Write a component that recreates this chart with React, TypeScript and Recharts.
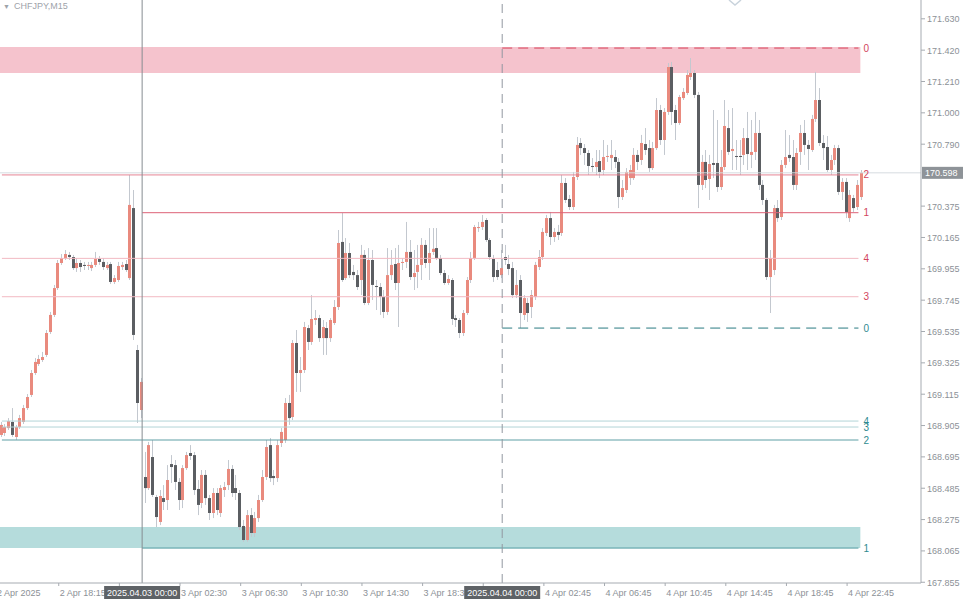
import React from "react";
import {
  ComposedChart,
  Bar,
  XAxis,
  YAxis,
  ReferenceLine,
  ReferenceArea,
} from "recharts";

// CHFJPY M15 candles, 2 Apr 14:30 -> 4 Apr 23:45 (broker skips the 23:45 bar)

const OPEN = [
  168.842, 168.855, 168.888, 168.929, 168.828, 168.895, 168.929, 169.022, 169.110, 169.257,
  169.317, 169.344, 169.378, 169.532, 169.646, 169.826, 169.994, 170.027, 170.048, 170.034,
  169.960, 169.994, 169.981, 169.974, 169.960, 169.981, 170.021, 170.001, 169.960, 169.987,
  169.867, 169.880, 169.967, 169.987, 169.893, 170.362, 169.411, 169.009, 168.560, 168.486,
  168.694, 168.426, 168.259, 168.419, 168.406, 168.647, 168.640, 168.527, 168.406, 168.620,
  168.721, 168.707, 168.480, 168.386, 168.574, 168.419, 168.319, 168.453, 168.319, 168.473,
  168.506, 168.614, 168.486, 168.453, 168.232, 168.138, 168.305, 168.185, 168.285, 168.406,
  168.560, 168.774, 168.567, 168.553, 168.788, 168.808, 169.056, 168.962, 169.458, 169.257,
  169.277, 169.558, 169.465, 169.612, 169.625, 169.491, 169.558, 169.491, 169.592, 169.699,
  170.135, 169.893, 170.061, 169.934, 169.913, 169.880, 170.048, 169.726, 170.014, 169.840,
  169.833, 169.766, 169.666, 169.913, 169.987, 169.860, 169.994, 170.001, 170.068, 169.900,
  169.934, 169.981, 170.115, 169.994, 170.068, 170.094, 170.027, 169.927, 169.860, 169.880,
  169.625, 169.612, 169.525, 169.659, 169.880, 170.027, 170.228, 170.235, 170.282, 170.148,
  170.021, 169.947, 169.913, 170.034, 169.987, 169.960, 169.779, 169.880, 169.646, 169.726,
  169.699, 169.766, 169.967, 170.034, 170.195, 170.295, 170.168, 170.202, 170.195, 170.530,
  170.423, 170.369, 170.570, 170.798, 170.764, 170.731, 170.644, 170.637, 170.677, 170.617,
  170.704, 170.697, 170.704, 170.671, 170.436, 170.483, 170.563, 170.563, 170.718, 170.684,
  170.791, 170.764, 170.630, 170.764, 171.019, 170.818, 171.006, 171.307, 171.019, 170.932,
  171.099, 171.133, 171.240, 171.267, 171.120, 170.517, 170.671, 170.557, 170.664, 170.664,
  170.503, 170.637, 170.898, 170.744, 170.711, 170.711, 170.718, 170.831, 170.718, 170.738,
  170.865, 170.517, 170.416, 169.900, 169.947, 170.362, 170.302, 170.651, 170.718, 170.704,
  170.517, 170.738, 170.865, 170.785, 170.751, 170.959, 171.086, 170.798, 170.771, 170.617,
  170.684, 170.764, 170.470, 170.537, 170.295, 170.429, 170.369, 170.436,
];

const HIGH = [
  168.929, 168.915, 168.955, 169.022, 168.909, 168.976, 169.043, 169.116, 169.277, 169.357,
  169.378, 169.398, 169.545, 169.666, 169.847, 170.014, 170.054, 170.081, 170.068, 170.048,
  170.027, 170.014, 170.001, 170.001, 170.001, 170.068, 170.041, 170.027, 170.001, 170.001,
  169.913, 170.001, 170.001, 170.014, 170.584, 170.483, 169.445, 169.223, 168.728, 168.795,
  168.808, 168.440, 168.473, 168.506, 168.640, 168.707, 168.674, 168.553, 168.640, 168.728,
  168.774, 168.728, 168.540, 168.607, 168.607, 168.440, 168.486, 168.486, 168.506, 168.527,
  168.674, 168.640, 168.574, 168.473, 168.272, 168.339, 168.352, 168.326, 168.440, 168.607,
  168.808, 168.821, 168.607, 168.808, 168.888, 169.089, 169.110, 169.478, 169.545, 169.364,
  169.599, 169.579, 169.779, 169.679, 169.646, 169.612, 169.599, 169.625, 169.746, 170.215,
  170.329, 170.161, 170.128, 169.981, 169.947, 170.115, 170.081, 170.094, 170.081, 169.880,
  169.860, 169.813, 170.094, 170.081, 170.094, 170.115, 170.027, 170.269, 170.148, 170.081,
  170.115, 170.161, 170.148, 170.228, 170.228, 170.228, 170.048, 169.947, 169.913, 169.893,
  169.646, 169.625, 169.679, 169.900, 170.068, 170.249, 170.269, 170.316, 170.295, 170.161,
  170.048, 170.001, 170.081, 170.115, 170.048, 170.001, 169.947, 169.913, 169.779, 169.759,
  169.813, 170.001, 170.081, 170.228, 170.316, 170.336, 170.228, 170.249, 170.584, 170.563,
  170.450, 170.604, 170.838, 170.831, 170.791, 170.751, 170.697, 170.751, 170.751, 170.818,
  170.785, 170.818, 170.751, 170.697, 170.550, 170.630, 170.651, 170.764, 170.751, 170.852,
  170.898, 170.818, 170.805, 171.099, 171.053, 171.032, 171.334, 171.341, 171.053, 171.120,
  171.166, 171.287, 171.367, 171.287, 171.140, 170.718, 170.751, 170.718, 171.019, 170.952,
  170.751, 171.086, 171.019, 171.032, 170.818, 170.818, 170.898, 171.006, 170.952, 171.006,
  170.952, 170.550, 170.429, 170.081, 170.383, 170.416, 170.684, 170.885, 170.851, 170.818,
  170.764, 170.919, 170.952, 170.818, 170.986, 171.274, 171.166, 170.851, 170.845, 170.718,
  170.785, 170.785, 170.563, 170.563, 170.483, 170.450, 170.550, 170.617,
];

const LOW = [
  168.828, 168.835, 168.875, 168.828, 168.808, 168.882, 168.915, 169.009, 169.096, 169.244,
  169.304, 169.331, 169.364, 169.518, 169.632, 169.813, 169.981, 170.014, 170.014, 169.947,
  169.934, 169.934, 169.947, 169.947, 169.940, 169.967, 169.981, 169.947, 169.947, 169.853,
  169.853, 169.867, 169.947, 169.934, 169.880, 169.478, 168.922, 168.955, 168.386, 168.473,
  168.426, 168.225, 168.238, 168.339, 168.339, 168.520, 168.473, 168.339, 168.352, 168.607,
  168.674, 168.440, 168.305, 168.352, 168.373, 168.272, 168.285, 168.305, 168.292, 168.426,
  168.473, 168.426, 168.406, 168.205, 168.125, 168.125, 168.158, 168.158, 168.259, 168.393,
  168.540, 168.527, 168.506, 168.527, 168.761, 168.788, 168.909, 168.942, 169.130, 169.130,
  169.257, 169.411, 169.445, 169.579, 169.465, 169.378, 169.378, 169.465, 169.579, 169.679,
  169.867, 169.880, 169.893, 169.880, 169.813, 169.779, 169.712, 169.712, 169.746, 169.679,
  169.646, 169.625, 169.646, 169.880, 169.813, 169.565, 169.947, 169.960, 169.880, 169.813,
  169.826, 169.880, 169.960, 169.880, 170.048, 170.014, 169.913, 169.847, 169.847, 169.579,
  169.565, 169.491, 169.505, 169.646, 169.860, 170.014, 170.202, 170.215, 170.135, 170.014,
  169.867, 169.880, 169.893, 169.981, 169.913, 169.759, 169.759, 169.558, 169.612, 169.599,
  169.625, 169.746, 169.947, 170.014, 170.175, 170.115, 170.135, 170.148, 170.175, 170.396,
  170.349, 170.349, 170.550, 170.718, 170.651, 170.584, 170.604, 170.584, 170.563, 170.584,
  170.671, 170.617, 170.630, 170.362, 170.416, 170.463, 170.517, 170.550, 170.617, 170.651,
  170.718, 170.604, 170.617, 170.751, 170.785, 170.718, 170.986, 170.919, 170.818, 170.919,
  171.086, 171.120, 171.220, 171.099, 170.362, 170.483, 170.496, 170.416, 170.563, 170.470,
  170.483, 170.617, 170.718, 170.617, 170.617, 170.584, 170.651, 170.617, 170.630, 170.684,
  170.483, 170.383, 169.880, 169.659, 169.913, 170.269, 170.282, 170.630, 170.671, 170.483,
  170.483, 170.651, 170.718, 170.617, 170.738, 170.939, 170.778, 170.684, 170.604, 170.584,
  170.651, 170.450, 170.416, 170.295, 170.269, 170.336, 170.349, 170.416,
];

const CLOSE = [
  168.909, 168.895, 168.935, 168.842, 168.895, 168.955, 169.022, 169.096, 169.257, 169.331,
  169.351, 169.364, 169.525, 169.646, 169.826, 169.994, 170.027, 170.054, 170.034, 169.960,
  169.994, 169.967, 169.974, 169.981, 169.981, 170.021, 170.001, 169.967, 169.981, 169.867,
  169.893, 169.974, 169.981, 169.947, 170.383, 169.512, 169.056, 169.197, 168.486, 168.774,
  168.440, 168.292, 168.433, 168.393, 168.540, 168.627, 168.527, 168.406, 168.620, 168.707,
  168.701, 168.473, 168.373, 168.574, 168.419, 168.319, 168.453, 168.339, 168.486, 168.493,
  168.614, 168.453, 168.453, 168.225, 168.138, 168.305, 168.185, 168.285, 168.406, 168.560,
  168.761, 168.553, 168.553, 168.774, 168.862, 169.056, 168.955, 169.458, 169.257, 169.277,
  169.565, 169.465, 169.619, 169.625, 169.491, 169.565, 169.491, 169.612, 169.699, 170.128,
  169.880, 170.061, 169.913, 169.913, 169.833, 170.048, 169.726, 170.014, 169.847, 169.833,
  169.766, 169.666, 169.913, 169.981, 169.860, 169.994, 170.001, 170.068, 169.900, 169.927,
  169.981, 170.115, 169.994, 170.061, 170.089, 170.027, 169.927, 169.860, 169.887, 169.619,
  169.612, 169.525, 169.659, 169.880, 170.027, 170.235, 170.235, 170.269, 170.148, 170.034,
  169.900, 169.900, 169.960, 170.014, 169.954, 169.779, 169.847, 169.659, 169.759, 169.659,
  169.779, 169.981, 170.034, 170.202, 170.295, 170.168, 170.202, 170.182, 170.530, 170.416,
  170.369, 170.570, 170.785, 170.764, 170.731, 170.644, 170.637, 170.671, 170.604, 170.704,
  170.711, 170.718, 170.671, 170.436, 170.496, 170.604, 170.617, 170.718, 170.671, 170.798,
  170.751, 170.630, 170.764, 171.019, 170.818, 171.006, 171.307, 171.006, 170.932, 171.106,
  171.140, 171.254, 171.267, 171.120, 170.517, 170.671, 170.550, 170.657, 170.651, 170.503,
  170.637, 170.912, 170.738, 170.758, 170.704, 170.704, 170.831, 170.724, 170.738, 170.865,
  170.517, 170.416, 169.900, 170.027, 170.362, 170.295, 170.651, 170.704, 170.697, 170.517,
  170.731, 170.865, 170.785, 170.758, 170.959, 171.086, 170.798, 170.764, 170.617, 170.684,
  170.764, 170.470, 170.537, 170.336, 170.450, 170.362, 170.517, 170.598,
];

const PRICE_TICKS = [
  167.855, 168.065, 168.275, 168.485, 168.695, 168.905, 169.115, 169.325, 169.535,
  169.745, 169.955, 170.165, 170.375, 170.79, 171.0, 171.21, 171.42, 171.63,
];

const TIME_TICKS = [
  "2 Apr 14:30", "2 Apr 18:15", "2 Apr 22:15", "3 Apr 00:00", "3 Apr 02:30", "3 Apr 06:30",
  "3 Apr 10:30", "3 Apr 14:30", "3 Apr 18:30", "3 Apr 22:30", "4 Apr 00:00", "4 Apr 02:45",
  "4 Apr 06:45", "4 Apr 10:45", "4 Apr 14:45", "4 Apr 18:45", "4 Apr 22:45",
];
const DAY_BOXES: Record<string, string> = {
  "3 Apr 00:00": "2025.04.03 00:00",
  "4 Apr 00:00": "2025.04.04 00:00",
};

// Fibo-style levels drawn by the indicator (label, price)
const UPPER_LEVELS = [
  ["0", 171.434], ["1", 170.331], ["2", 170.584], ["3", 169.768], ["4", 170.025],
] as const;
const LOWER_LEVELS = [
  ["0", 169.558], ["1", 168.084], ["2", 168.808], ["3", 168.895], ["4", 168.935],
] as const;
const UPPER_ZONE = [171.267, 171.441];
const LOWER_ZONE = [168.084, 168.225];
const LAST_PRICE = 170.598;

const W = 964;
const H = 599;
const Y_AXIS_W = 43;
const X_AXIS_H = 16;
const PLOT_R = W - Y_AXIS_W;
const PLOT_B = H - X_AXIS_H;
const SLOTS = 243; // bars + empty shift on the right

const UP = "#e98a7e";
const DOWN = "#5b5e62";
const WICK = "#c3c8cf";
const AXIS = "#a6abb1";
const TXT = "#8c9197";
const RED = "#d2455c";
const TEAL = "#2f8a90";
const FONT = "'Liberation Sans', Arial, sans-serif";

// M15 time labels, the 23:45 bar is missing on this feed
const times: string[] = [];
{
  let day = 2;
  let m = 14 * 60 + 30;
  for (let i = 0; i < OPEN.length; i++) {
    const hh = String(Math.floor(m / 60)).padStart(2, "0");
    const mm = String(m % 60).padStart(2, "0");
    times.push(`${day} Apr ${hh}:${mm}`);
    m += 15;
    if (m >= 23 * 60 + 45) {
      m = 0;
      day += 1;
    }
  }
}

const data = Array.from({ length: SLOTS }, (_, i) =>
  i < OPEN.length
    ? { t: times[i], o: OPEN[i], h: HIGH[i], l: LOW[i], c: CLOSE[i], range: [LOW[i], HIGH[i]] }
    : { t: `pad${i}` }
);

const FIRST = data[0].t;
const LAST_BAR = data[OPEN.length - 2].t; // where level lines end
const DAY3 = data[37].t;
const DAY4 = data[132].t;

function Candle(props: any) {
  const { x, y, width, height, payload } = props;
  if (!payload || payload.o == null) return null;
  const { o, h, l, c } = payload;
  const top = Math.min(y, y + height);
  const hh = Math.abs(height);
  const k = h > l ? hh / (h - l) : 0;
  const yO = top + (h - o) * k;
  const yC = top + (h - c) * k;
  const bTop = Math.min(yO, yC);
  const bH = Math.max(Math.abs(yC - yO), 1);
  const cx = Math.round(x + width / 2) - 0.5;
  return (
    <g>
      <line x1={cx} x2={cx} y1={top} y2={top + hh} stroke={WICK} strokeWidth={1} />
      <rect x={cx - 1.5} y={bTop} width={3} height={bH} fill={c >= o ? UP : DOWN} />
    </g>
  );
}

function XTick(props: any) {
  const { x, payload } = props;
  const v = payload.value;
  const box = DAY_BOXES[v];
  if (box) {
    return (
      <g>
        <rect x={x - 38} y={586} width={76} height={13} fill="#5e6266" />
        <text x={x} y={596} textAnchor="middle" fontSize={9} fill="#ffffff" fontFamily={FONT}>
          {box}
        </text>
      </g>
    );
  }
  const first = v === FIRST;
  return (
    <g>
      {!first && <line x1={x} x2={x} y1={PLOT_B} y2={PLOT_B + 3} stroke={AXIS} />}
      <text x={first ? x - 5 : x + 1} y={596} fontSize={9} fill={TXT} fontFamily={FONT}>
        {first ? "2 Apr 2025" : v}
      </text>
    </g>
  );
}

function YTick(props: any) {
  const { y, payload } = props;
  return (
    <g>
      <line x1={PLOT_R} x2={PLOT_R + 4} y1={y} y2={y} stroke={AXIS} />
      <text x={PLOT_R + 6} y={y + 3.5} fontSize={9} fill={TXT} fontFamily={FONT}>
        {Number(payload.value).toFixed(3)}
      </text>
    </g>
  );
}

function PriceTag(props: any) {
  const vb = props.viewBox || {};
  const yy = vb.y ?? 0;
  return (
    <g>
      <rect x={PLOT_R + 1} y={yy - 6} width={41} height={12} fill="#8e9398" />
      <text x={PLOT_R + 4} y={yy + 3.5} fontSize={9} fill="#ffffff" fontFamily={FONT}>
        {LAST_PRICE.toFixed(3)}
      </text>
    </g>
  );
}

function upperStyle(name: string) {
  if (name === "0") return { stroke: "#d8465e", dash: "10 6", from: DAY4 };
  if (name === "1") return { stroke: "#dd6277", dash: undefined, from: DAY3 };
  if (name === "2") return { stroke: "#e58594", dash: undefined, from: FIRST };
  return { stroke: "#f2b9c2", dash: undefined, from: FIRST };
}

function lowerStyle(name: string) {
  if (name === "0") return { stroke: "#2a7a81", dash: "10 6", from: DAY4 };
  if (name === "1") return { stroke: "#4f9aa0", dash: undefined, from: DAY3 };
  if (name === "2") return { stroke: "#5f9fa5", dash: undefined, from: FIRST };
  return { stroke: "#b2d4d7", dash: undefined, from: FIRST };
}

export default function App() {
  return (
    <div style={{ position: "absolute", left: 0, top: 0, width: W, height: H, background: "#ffffff" }}>
      <ComposedChart
        width={W}
        height={H}
        data={data}
        margin={{ top: 0, right: 0, bottom: 0, left: 0 }}
        barSize={3}
      >
        <XAxis
          dataKey="t"
          ticks={TIME_TICKS}
          interval={0}
          tick={(p: any) => <XTick {...p} />}
          tickLine={false}
          axisLine={{ stroke: AXIS }}
          height={X_AXIS_H}
        />
        <YAxis
          orientation="right"
          domain={[167.85, 171.756]}
          ticks={PRICE_TICKS}
          allowDataOverflow
          tick={(p: any) => <YTick {...p} />}
          tickLine={false}
          axisLine={{ stroke: AXIS }}
          width={Y_AXIS_W}
        />

        {/* zones */}
        <ReferenceArea x1={FIRST} x2={LAST_BAR} y1={UPPER_ZONE[0]} y2={UPPER_ZONE[1]} fill="#f5c3cd" fillOpacity={1} stroke="none" />
        <ReferenceArea x1={FIRST} x2={LAST_BAR} y1={LOWER_ZONE[0]} y2={LOWER_ZONE[1]} fill="#b5dcdc" fillOpacity={1} stroke="none" />

        {/* bid line */}
        <ReferenceLine y={LAST_PRICE} stroke="#d6dbe0" label={(p: any) => <PriceTag {...p} />} />

        {UPPER_LEVELS.map(([name, price]) => {
          const s = upperStyle(name);
          return (
            <ReferenceLine
              key={"u" + name}
              segment={[{ x: s.from, y: price }, { x: LAST_BAR, y: price }]}
              stroke={s.stroke}
              strokeDasharray={s.dash}
              label={{ value: name, position: "right", fill: RED, fontSize: 10, fontFamily: FONT }}
            />
          );
        })}
        {LOWER_LEVELS.map(([name, price]) => {
          const s = lowerStyle(name);
          return (
            <ReferenceLine
              key={"l" + name}
              segment={[{ x: s.from, y: price }, { x: LAST_BAR, y: price }]}
              stroke={s.stroke}
              strokeDasharray={s.dash}
              label={{ value: name, position: "right", fill: TEAL, fontSize: 10, fontFamily: FONT }}
            />
          );
        })}

        {/* day separators */}
        <ReferenceLine x={DAY3} stroke="#878c92" />
        <ReferenceLine x={DAY4} stroke="#9297a0" strokeDasharray="9 6" />

        <Bar dataKey="range" shape={(p: any) => <Candle {...p} />} isAnimationActive={false} />
      </ComposedChart>

      <div
        style={{
          position: "absolute",
          left: 3,
          top: 1,
          fontFamily: FONT,
          fontSize: 9,
          color: "#9ea3aa",
          whiteSpace: "nowrap",
        }}
      >
        <span style={{ fontSize: 7, marginRight: 4 }}>▼</span>CHFJPY,M15
      </div>
      <svg style={{ position: "absolute", left: 728, top: 0 }} width={14} height={6}>
        <polyline points="1,0 7,5 13,0" fill="none" stroke="#c9d3dc" strokeWidth={1.5} />
      </svg>
    </div>
  );
}
